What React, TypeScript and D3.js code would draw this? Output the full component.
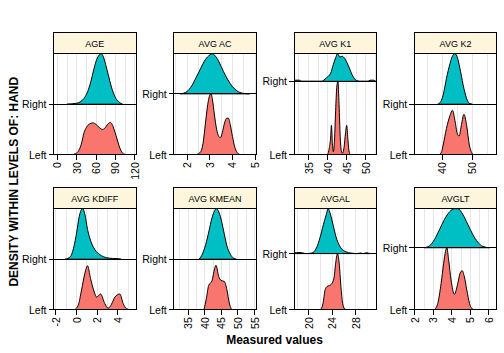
import React, { useEffect, useRef } from 'react';
import * as d3 from 'd3';

// facet names, in reading order (4 per row)
const panelNames = ['AGE', 'AVG AC', 'AVG K1', 'AVG K2', 'AVG KDIFF', 'AVG KMEAN', 'AVGAL', 'AVGLT'];
const groupLabels = ['Left', 'Right'];

const xTicks = [
  [0, 30, 60, 90, 120],
  [2, 3, 4, 5],
  [35, 40, 45, 50],
  [40, 50],
  [-2, 0, 2, 4],
  [35, 40, 45, 50, 55],
  [20, 24, 28],
  [2, 3, 4, 5, 6],
];

const xLimits = [
  [-6, 122],
  [1.41, 5.05],
  [31.2, 52.8],
  [30.7, 58.1],
  [-2.24, 5.76],
  [30.7, 55.5],
  [17.45, 31.6],
  [1.96, 6.42],
];

// density curves: [value, relative height]
const leftDensity = [
  [[22, 0], [28, 0.02], [34, 0.1], [38, 0.25], [41, 0.42], [45, 0.54], [50, 0.61], [55, 0.63], [60, 0.6], [65, 0.54], [70, 0.5], [74, 0.53], [78, 0.6], [82, 0.64], [85, 0.6], [88, 0.5], [91, 0.38], [94, 0.25], [97, 0.13], [100, 0.05], [104, 0.01], [108, 0]],
  [[2.4, 0], [2.6, 0.05], [2.7, 0.18], [2.8, 0.49], [2.9, 0.8], [3.0, 0.98], [3.05, 1.0], [3.12, 0.9], [3.2, 0.67], [3.3, 0.42], [3.4, 0.3], [3.47, 0.28], [3.55, 0.36], [3.65, 0.52], [3.75, 0.6], [3.82, 0.6], [3.9, 0.5], [4.0, 0.3], [4.1, 0.13], [4.2, 0.04], [4.35, 0]],
  [[40.0, 0], [40.4, 0.08], [40.8, 0.24], [41.0, 0.4], [41.25, 0.15], [41.5, 0.04], [41.8, 0.2], [42.1, 0.6], [42.4, 0.92], [42.7, 1.0], [43.0, 0.68], [43.3, 0.25], [43.6, 0.05], [43.9, 0.02], [44.3, 0.1], [44.7, 0.3], [45.0, 0.4], [45.3, 0.22], [45.6, 0.05], [46.0, 0]],
  [[39, 0], [39.8, 0.06], [40.3, 0.19], [41.4, 0.52], [42.6, 0.78], [43.4, 0.88], [44.2, 0.68], [45.0, 0.42], [45.6, 0.37], [46.4, 0.6], [47.2, 0.8], [48.1, 0.58], [49.0, 0.19], [49.8, 0.04], [50.4, 0]],
  [[-0.2, 0], [0.16, 0.09], [0.48, 0.39], [0.8, 0.72], [1.06, 0.87], [1.35, 0.62], [1.71, 0.35], [1.94, 0.25], [2.32, 0.31], [2.74, 0.12], [3.06, 0.03], [3.39, 0.11], [3.71, 0.25], [4.19, 0.31], [4.52, 0.12], [4.84, 0.02], [5.2, 0]],
  [[39.8, 0], [40.5, 0.22], [41.2, 0.48], [42.2, 0.57], [43.0, 0.82], [43.4, 0.88], [44.2, 0.66], [44.9, 0.58], [45.9, 0.56], [46.7, 0.39], [47.4, 0.13], [48.0, 0.02], [48.4, 0]],
  [[22.0, 0], [22.4, 0.1], [22.8, 0.36], [23.1, 0.41], [23.5, 0.43], [23.9, 0.46], [24.3, 0.56], [24.6, 0.83], [24.9, 1.0], [25.2, 0.83], [25.5, 0.41], [25.8, 0.11], [26.1, 0.02], [26.4, 0]],
  [[3.05, 0], [3.23, 0.1], [3.41, 0.42], [3.55, 0.75], [3.65, 0.94], [3.72, 1.0], [3.82, 0.8], [3.95, 0.48], [4.13, 0.25], [4.31, 0.42], [4.44, 0.59], [4.55, 0.63], [4.67, 0.53], [4.8, 0.32], [4.95, 0.1], [5.07, 0.02], [5.2, 0]],
];

const rightDensity = [
  [[15, 0], [30, 0.02], [41, 0.11], [47, 0.25], [52, 0.45], [56, 0.66], [60, 0.85], [64, 0.96], [68, 1.0], [71, 0.95], [75, 0.78], [79, 0.58], [83, 0.38], [87, 0.22], [91, 0.11], [96, 0.04], [101, 0]],
  [[1.7, 0], [2.0, 0.04], [2.2, 0.13], [2.4, 0.27], [2.6, 0.42], [2.8, 0.56], [3.0, 0.64], [3.1, 0.66], [3.25, 0.62], [3.4, 0.53], [3.6, 0.37], [3.8, 0.23], [4.0, 0.12], [4.2, 0.05], [4.45, 0.01], [4.75, 0]],
  [[31.2, 0.015], [32.6, 0.015], [33.2, 0], [38.4, 0], [39.7, 0.05], [40.8, 0.11], [41.5, 0.23], [42.1, 0.32], [42.6, 0.376], [43.2, 0.33], [43.8, 0.34], [44.5, 0.31], [45.1, 0.25], [45.7, 0.18], [46.6, 0.07], [47.6, 0.01], [48.5, 0], [50.6, 0], [51.1, 0.015], [52.0, 0.015], [52.6, 0]],
  [[38.5, 0], [39.5, 0.05], [40.3, 0.18], [41.4, 0.51], [42.6, 0.81], [43.3, 0.94], [44.2, 1.0], [45.1, 0.91], [46.1, 0.64], [47.2, 0.31], [48.3, 0.08], [49.2, 0.01], [50, 0]],
  [[-1.1, 0], [-0.6, 0.05], [-0.26, 0.25], [0, 0.52], [0.26, 0.85], [0.5, 0.99], [0.6, 1.0], [0.8, 0.89], [1.06, 0.59], [1.39, 0.35], [1.77, 0.19], [2.26, 0.09], [2.9, 0.03], [3.5, 0.015], [4.0, 0.01], [4.3, 0]],
  [[38.3, 0], [39.3, 0.1], [40.3, 0.29], [41.3, 0.56], [42.2, 0.82], [42.9, 0.95], [43.5, 1.0], [44.7, 0.85], [45.7, 0.56], [46.7, 0.26], [47.7, 0.1], [48.7, 0.02], [49.5, 0]],
  [[17.45, 0.01], [18.3, 0.02], [19.0, 0.01], [19.5, 0], [20.5, 0.01], [21.3, 0.1], [21.9, 0.28], [22.5, 0.52], [23.0, 0.7], [23.3, 0.8], [23.7, 0.7], [24.2, 0.49], [24.8, 0.25], [25.5, 0.1], [26.4, 0.03], [27.2, 0.01], [28.2, 0], [28.9, 0.01], [29.3, 0], [29.9, 0.015], [30.4, 0]],
  [[2.5, 0], [2.78, 0.03], [3.05, 0.13], [3.32, 0.29], [3.6, 0.46], [3.87, 0.58], [4.14, 0.63], [4.32, 0.63], [4.58, 0.54], [4.85, 0.38], [5.13, 0.21], [5.4, 0.09], [5.67, 0.02], [6.03, 0]],
];

const FONT = '"Liberation Sans", Arial, sans-serif';

const RidgeFacets = ({ width, height }) => {
  const ref = useRef(null);

  useEffect(() => {
    const svg = d3.select(ref.current);
    svg.selectAll('*').remove();
    svg.attr('width', width).attr('height', height);

    const panelW = 82.5;
    const panelH = 101;
    const stripH = 21.2;

    panelNames.forEach((name, i) => {
      const col = i % 4;
      const row = Math.floor(i / 4);
      const left = 53.5 + col * 120.25;
      const stripTop = 32.5 + row * 155;
      const top = stripTop + stripH;

      const lim = xLimits[i];
      const ticks = xTicks[i];
      const x = d3.scaleLinear().domain(lim).range([0, panelW]);

      const norm = d3.max([...leftDensity[i], ...rightDensity[i]], d => d[1]);
      const maxR = d3.max(rightDensity[i], d => d[1]) / norm;
      const y = d3.scaleLinear().domain([0, 1 + maxR]).range([panelH, 0]);

      const g = svg.append('g').attr('transform', `translate(${left},${top})`);

      // strip
      svg.append('rect')
        .attr('x', left).attr('y', stripTop)
        .attr('width', panelW).attr('height', stripH)
        .attr('fill', '#fdf6dc').attr('stroke', '#000').attr('stroke-width', 1)
        .attr('shape-rendering', 'crispEdges');
      svg.append('text')
        .attr('x', left + panelW / 2).attr('y', stripTop + stripH / 2 + 0.5)
        .attr('text-anchor', 'middle').attr('dominant-baseline', 'central')
        .attr('font-family', FONT).attr('font-size', 9)
        .text(name);

      const clipId = `clip-${i}`;
      g.append('clipPath').attr('id', clipId)
        .append('rect').attr('width', panelW).attr('height', panelH);
      const body = g.append('g').attr('clip-path', `url(#${clipId})`);

      body.append('rect').attr('width', panelW).attr('height', panelH).attr('fill', '#fff');

      // grid at every half tick step
      const half = (ticks[1] - ticks[0]) / 2;
      const grid = d3.range(Math.ceil(lim[0] / half), Math.floor(lim[1] / half) + 1).map(k => k * half);
      body.selectAll('.grid')
        .data(grid)
        .enter().append('line')
        .attr('x1', d => x(d)).attr('x2', d => x(d))
        .attr('y1', 0).attr('y2', panelH)
        .attr('stroke', '#e6e6e6').attr('stroke-width', 1)
        .attr('shape-rendering', 'crispEdges');

      const ridge = (base) => d3.area()
        .x(d => x(d[0]))
        .y0(y(base))
        .y1(d => y(base + d[1] / norm))
        .curve(d3.curveMonotoneX);

      body.append('path')
        .datum(leftDensity[i])
        .attr('d', ridge(0))
        .attr('fill', '#F8766D').attr('stroke', '#000').attr('stroke-width', 1);
      body.append('path')
        .datum(rightDensity[i])
        .attr('d', ridge(1))
        .attr('fill', '#00BFC4').attr('stroke', '#000').attr('stroke-width', 1);

      // baselines for each group
      body.selectAll('.base')
        .data([0, 1])
        .enter().append('line')
        .attr('x1', 0).attr('x2', panelW)
        .attr('y1', d => y(d)).attr('y2', d => y(d))
        .attr('stroke', '#000').attr('stroke-width', 1)
        .attr('shape-rendering', 'crispEdges');

      g.append('rect')
        .attr('width', panelW).attr('height', panelH)
        .attr('fill', 'none').attr('stroke', '#000').attr('stroke-width', 1)
        .attr('shape-rendering', 'crispEdges');

      // y axis: group labels
      groupLabels.forEach((lab, k) => {
        g.append('line')
          .attr('x1', -5).attr('x2', 0)
          .attr('y1', y(k)).attr('y2', y(k))
          .attr('stroke', '#000')
          .attr('shape-rendering', 'crispEdges');
        g.append('text')
          .attr('x', -7).attr('y', y(k))
          .attr('text-anchor', 'end').attr('dominant-baseline', 'central')
          .attr('font-family', FONT).attr('font-size', 10.5)
          .text(lab);
      });

      // x axis ticks, rotated labels
      ticks.forEach(t => {
        g.append('line')
          .attr('x1', x(t)).attr('x2', x(t))
          .attr('y1', panelH).attr('y2', panelH + 5)
          .attr('stroke', '#000')
          .attr('shape-rendering', 'crispEdges');
        g.append('text')
          .attr('transform', `translate(${x(t)},${panelH + 7.5}) rotate(-90)`)
          .attr('text-anchor', 'end').attr('dominant-baseline', 'central')
          .attr('font-family', FONT).attr('font-size', 10.5)
          .text(t);
      });
    });

    svg.append('text')
      .attr('transform', 'translate(18,181.7) rotate(-90)')
      .attr('text-anchor', 'middle')
      .attr('font-family', FONT).attr('font-size', 12).attr('font-weight', 'bold')
      .text('DENSITY WITHIN LEVELS OF: HAND');

    svg.append('text')
      .attr('x', 274.5).attr('y', 344)
      .attr('text-anchor', 'middle')
      .attr('font-family', FONT).attr('font-size', 12).attr('font-weight', 'bold')
      .text('Measured values');
  }, [width, height]);

  return <svg ref={ref} style={{ position: 'absolute', left: 0, top: 0 }}></svg>;
};

export default function App() {
  return <RidgeFacets width={504} height={353} />;
}
